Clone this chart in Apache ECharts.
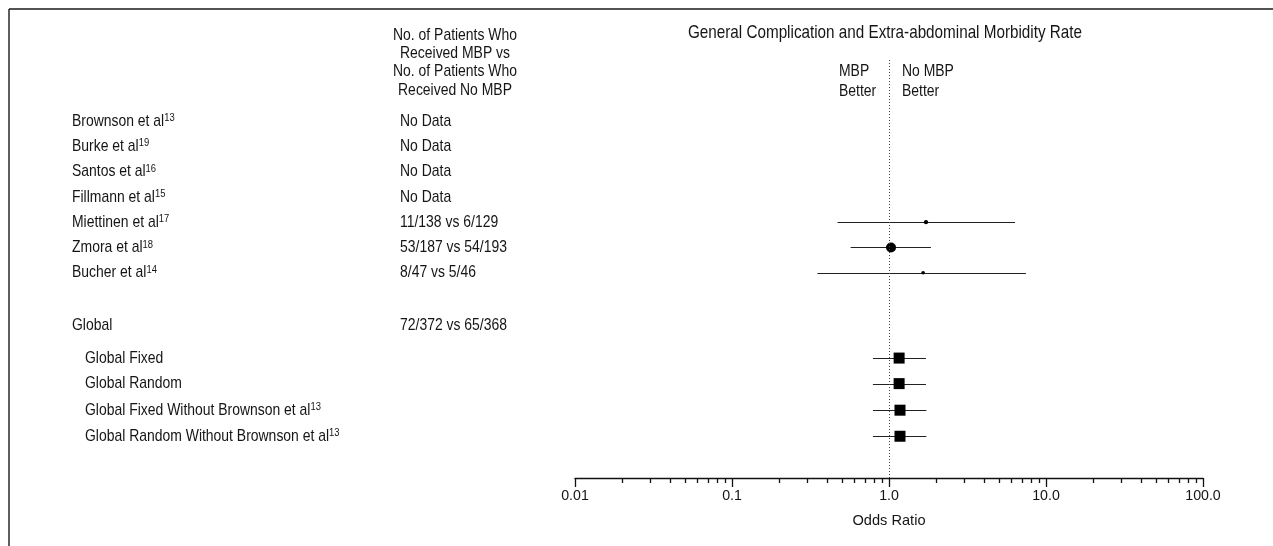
<!DOCTYPE html>
<html><head><meta charset="utf-8">
<script src="https://cdn.jsdelivr.net/npm/echarts@6/dist/echarts.min.js"></script>
<style>html,body{margin:0;padding:0;background:#fff}#c{width:1273px;height:546px}</style>
</head><body><div id="c"></div>
<script>
// ---------------- data ----------------
const studyNames = ['Brownson et al', 'Burke et al', 'Santos et al', 'Fillmann et al', 'Miettinen et al', 'Zmora et al', 'Bucher et al'];
const studyRefs = ['13', '19', '16', '15', '17', '18', '14'];
const studyCounts = ['No Data', 'No Data', 'No Data', 'No Data', '11/138 vs 6/129', '53/187 vs 54/193', '8/47 vs 5/46'];
const studyOR = [null, null, null, null, 1.72, 1.03, 1.65];
const studyLow = [null, null, null, null, 0.47, 0.57, 0.35];
const studyHigh = [null, null, null, null, 6.35, 1.85, 7.45];
const studyWeight = [0, 0, 0, 0, 14, 76, 10];
const globalLabel = 'Global';
const globalCounts = '72/372 vs 65/368';
const pooledNames = ['Global Fixed', 'Global Random', 'Global Fixed Without Brownson et al', 'Global Random Without Brownson et al'];
const pooledRefs = ['', '', '13', '13'];
const pooledOR = [1.16, 1.16, 1.175, 1.175];
const pooledLow = [0.79, 0.79, 0.79, 0.79];
const pooledHigh = [1.72, 1.72, 1.73, 1.73];
const xTickValues = [0.01, 0.1, 1, 10, 100];
const xTickLabels = ['0.01', '0.1', '1.0', '10.0', '100.0'];
const minorSteps = [2, 3, 4, 5, 6, 7, 8, 9];
const titleText = 'General Complication and Extra-abdominal Morbidity Rate';
const colHeader = ['No. of Patients Who', 'Received MBP vs', 'No. of Patients Who', 'Received No MBP'];
const leftSide = ['MBP', 'Better'];
const rightSide = ['No MBP', 'Better'];
const xName = 'Odds Ratio';

// ---------------- layout ----------------
const studySlots = [0, 1, 2, 3, 4, 5, 6];
const globalSlot = 8.06;
const pooledSlots = [9.37, 10.38, 11.43, 12.46];
const FONT = '"Liberation Sans", Arimo, Arial, sans-serif';
const FS = 17;
const SX = 0.82;
const INK = '#151515';

const rows = [];
studyNames.forEach((n, i) => rows.push({ label: n, ref: studyRefs[i], counts: studyCounts[i], slot: studySlots[i], indent: 0 }));
rows.push({ label: globalLabel, ref: '', counts: globalCounts, slot: globalSlot, indent: 0 });
pooledNames.forEach((n, i) => rows.push({ label: n, ref: pooledRefs[i], counts: '', slot: pooledSlots[i], indent: 1 }));

const minorTicks = [];
xTickValues.slice(0, -1).forEach(d => minorSteps.forEach(k => minorTicks.push([d * k])));

const ciData = [];
studyOR.forEach((v, i) => { if (v != null) ciData.push([studyLow[i], studyHigh[i], studySlots[i]]); });
pooledOR.forEach((v, i) => ciData.push([pooledLow[i], pooledHigh[i], pooledSlots[i]]));

const studyPts = [];
studyOR.forEach((v, i) => { if (v != null) studyPts.push([v, studySlots[i], studyWeight[i]]); });
const pooledPts = pooledOR.map((v, i) => [v, pooledSlots[i]]);

const Y_MIN = -2.41, Y_MAX = 14.11;

function textEl(x, y, str, align, rich) {
  return {
    type: 'text', x: x, y: y, scaleX: SX,
    style: {
      text: str, fill: INK, fontFamily: FONT, fontSize: FS, lineHeight: 18,
      align: align, verticalAlign: 'middle', textAlign: align, textVerticalAlign: 'middle',
      rich: rich
    }
  };
}
const supRich = {
  s: { fontSize: 11.5, fontFamily: FONT, fill: INK, verticalAlign: 'top', lineHeight: 12 }
};
function gText(x, y, lines, size, lh, align, vAlign) {
  return {
    type: 'text', x: x, y: y, scaleX: SX,
    style: {
      text: lines, fill: INK, fontFamily: FONT, fontSize: size, lineHeight: lh,
      align: align, verticalAlign: vAlign, textAlign: align, textVerticalAlign: vAlign
    }
  };
}

const chart = echarts.init(document.getElementById('c'), null, { renderer: 'canvas' });
const option = {
  animation: false,
  backgroundColor: '#fff',
  textStyle: { fontFamily: FONT, color: INK },
  grid: { left: 575, right: 70, top: 60, bottom: 68, containLabel: false, outerBoundsMode: 'none' },
  xAxis: {
    type: 'log', logBase: 10, min: 0.01, max: 100,
    position: 'bottom',
    name: xName, nameLocation: 'middle', nameGap: 35,
    nameTextStyle: { fontFamily: FONT, fontSize: 14.6, color: INK },
    axisLine: { show: true, onZero: false, lineStyle: { color: '#111', width: 1.3 } },
    axisTick: { show: true, inside: false, length: 9, lineStyle: { color: '#111', width: 1.3 } },
    minorTick: { show: false },
    splitLine: { show: false },
    axisLabel: {
      margin: 11, fontFamily: FONT, fontSize: 14.2, color: INK,
      formatter: function (v) {
        let best = 0, bd = Infinity;
        xTickValues.forEach((t, i) => { const d = Math.abs(Math.log10(t) - Math.log10(v)); if (d < bd) { bd = d; best = i; } });
        return xTickLabels[best];
      }
    }
  },
  yAxis: { type: 'value', inverse: true, min: Y_MIN, max: Y_MAX, show: false },
  graphic: [
    { type: 'line', shape: { x1: 9, y1: 9, x2: 1273, y2: 9 }, style: { stroke: '#1a1a1a', lineWidth: 1.4 } },
    { type: 'line', shape: { x1: 9, y1: 9, x2: 9, y2: 546 }, style: { stroke: '#1a1a1a', lineWidth: 1.4 } },
    gText(885, 33, titleText, 18.6, 20, 'center', 'middle'),
    gText(455, 26, colHeader.join('\n'), FS, 18.3, 'center', 'top'),
    gText(839, 61, leftSide.join('\n'), FS, 20, 'left', 'top'),
    gText(902, 61, rightSide.join('\n'), FS, 20, 'left', 'top')
  ],
  series: [
    {
      type: 'custom', name: 'labels', silent: true, clip: false,
      data: rows.map((r, i) => [1, r.slot, i]),
      renderItem: function (params, api) {
        const r = rows[api.value(2)];
        const y = api.coord([1, api.value(1)])[1];
        const lab = r.ref ? r.label + '{s|' + r.ref + '}' : r.label;
        const ch = [textEl(r.indent ? 85 : 72, y, lab, 'left', supRich)];
        if (r.counts) ch.push(textEl(400, y, r.counts, 'left'));
        return { type: 'group', children: ch };
      },
      markLine: {
        silent: true, symbol: 'none', animation: false,
        label: { show: false },
        lineStyle: { color: '#444', width: 1, type: [1, 2] },
        data: [{ xAxis: 1 }]
      }
    },
    {
      type: 'custom', name: 'minorTicks', silent: true, clip: false,
      data: minorTicks,
      renderItem: function (params, api) {
        const p = api.coord([api.value(0), Y_MAX]);
        const x = Math.round(p[0]) + 0.5;
        return { type: 'line', shape: { x1: x, y1: p[1], x2: x, y2: p[1] + 5 }, style: { stroke: '#111', lineWidth: 1.3 } };
      }
    },
    {
      type: 'custom', name: 'ci', silent: true, clip: false,
      data: ciData,
      renderItem: function (params, api) {
        const a = api.coord([api.value(0), api.value(2)]);
        const b = api.coord([api.value(1), api.value(2)]);
        const y = Math.round(a[1]) + 0.5;
        return { type: 'line', shape: { x1: a[0], y1: y, x2: b[0], y2: y }, style: { stroke: '#222', lineWidth: 1.2 } };
      }
    },
    {
      type: 'scatter', name: 'studies', silent: true,
      data: studyPts,
      symbol: 'circle',
      symbolSize: function (d) { return 1.15 * Math.sqrt(d[2]); },
      itemStyle: { color: '#000', opacity: 1 }
    },
    {
      type: 'scatter', name: 'pooled', silent: true,
      data: pooledPts,
      symbol: 'rect', symbolSize: 11,
      itemStyle: { color: '#000', opacity: 1 }
    }
  ]
};
chart.setOption(option);
</script>
</body></html>
